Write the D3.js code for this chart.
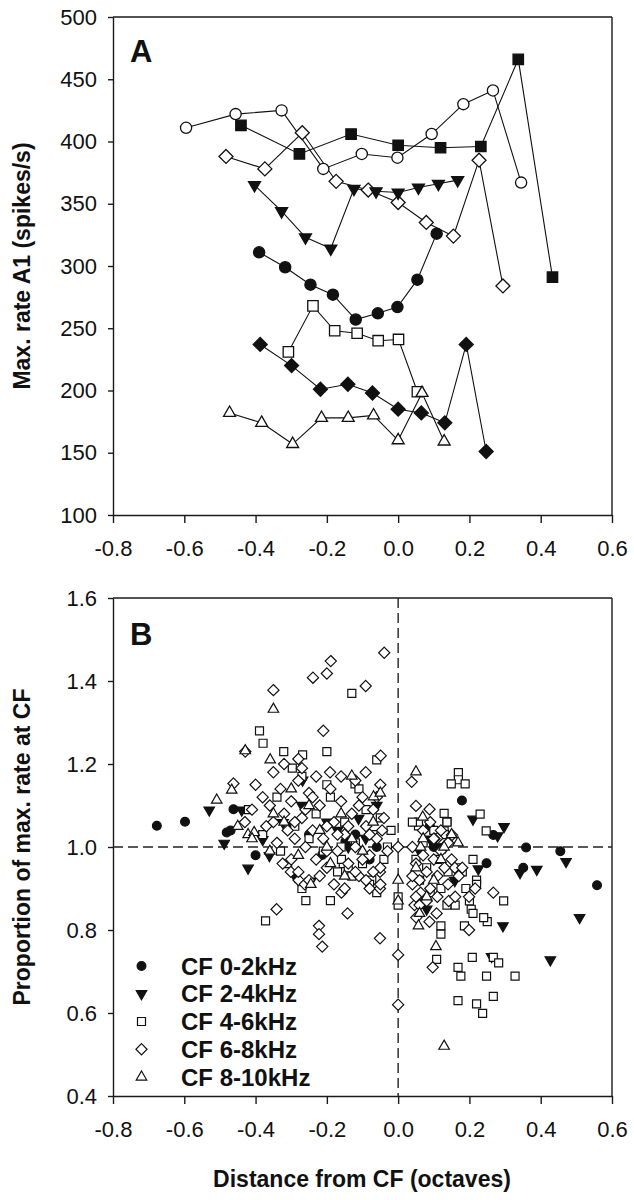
<!DOCTYPE html>
<html><head><meta charset="utf-8">
<script src="https://cdn.jsdelivr.net/npm/d3@7"></script>
<style>
html,body{margin:0;padding:0;background:#fff;}
svg{display:block;font-family:"Liberation Sans",Arial,Helvetica,sans-serif;}
</style></head>
<body>
<svg id="chart" width="634" height="1200"></svg>
<script>
// ---------- Panel A data ----------
const xTicks = [-0.8,-0.6,-0.4,-0.2,0.0,0.2,0.4,0.6];
const yTicksA = [100,150,200,250,300,350,400,450,500];
const yTicksB = [0.4,0.6,0.8,1.0,1.2,1.4,1.6];

const aOpenCircleX = [-0.595,-0.456,-0.327,-0.210,-0.102,-0.002,0.094,0.183,0.266,0.345];
const aOpenCircleY = [411,422,425,378,390,387,406,430,441,367];
const aFilledSquareX = [-0.441,-0.277,-0.132,0.0,0.119,0.232,0.337,0.433];
const aFilledSquareY = [413,390,406,397,395,396,466,291];
const aOpenDiamondX = [-0.483,-0.374,-0.269,-0.174,-0.084,0.0,0.079,0.155,0.227,0.294];
const aOpenDiamondY = [388,378,407,368,361,351,335,324,385,284];
const aFilledTriX = [-0.403,-0.327,-0.260,-0.189,-0.124,-0.062,0.0,0.057,0.113,0.167];
const aFilledTriY = [365,344,323,314,362,360,359,363,366,369];
const aFilledCircleX = [-0.390,-0.317,-0.246,-0.183,-0.119,-0.057,-0.002,0.054,0.108];
const aFilledCircleY = [311,299,285,277,257,262,267,289,326];
const aOpenSquareX = [-0.308,-0.239,-0.178,-0.115,-0.056,0.001,0.054];
const aOpenSquareY = [231,268,248,246,240,241,199];
const aFilledDiamondX = [-0.387,-0.299,-0.218,-0.141,-0.072,0.0,0.065,0.131,0.191,0.247];
const aFilledDiamondY = [237,220,201,205,198,185,182,174,237,151];
const aOpenTriX = [-0.473,-0.383,-0.296,-0.215,-0.140,-0.069,0.0,0.067,0.129];
const aOpenTriY = [182,174,157,178,178,180,160,198,159];

const seriesA = [
  {x:aOpenCircleX, y:aOpenCircleY, shape:"circle", filled:false},
  {x:aFilledSquareX, y:aFilledSquareY, shape:"square", filled:true},
  {x:aOpenDiamondX, y:aOpenDiamondY, shape:"diamond", filled:false},
  {x:aFilledTriX, y:aFilledTriY, shape:"tridown", filled:true},
  {x:aFilledCircleX, y:aFilledCircleY, shape:"circle", filled:true},
  {x:aOpenSquareX, y:aOpenSquareY, shape:"square", filled:false},
  {x:aFilledDiamondX, y:aFilledDiamondY, shape:"diamond", filled:true},
  {x:aOpenTriX, y:aOpenTriY, shape:"triup", filled:false}
];

// ---------- Panel B data ----------
const legendLabels = ["CF 0-2kHz","CF 2-4kHz","CF 4-6kHz","CF 6-8kHz","CF 8-10kHz"];

const b02 = [[-0.677,1.051],[-0.598,1.061],[-0.481,1.035],[-0.47,1.04],[-0.462,1.091],[-0.40,0.98],
 [-0.30,1.05],[-0.25,1.03],[-0.213,0.981],[-0.148,1.013],[-0.12,1.03],[-0.08,0.97],[-0.06,1.00],
 [0.089,1.051],[0.10,1.00],[0.179,1.112],[0.248,0.961],[0.267,1.029],[0.351,0.950],[0.359,0.999],
 [0.455,0.990],[0.558,0.908]];

const b24 = [[-0.53,1.089],[-0.488,1.009],[-0.439,1.089],[-0.421,0.949],[-0.38,1.018],[-0.361,0.979],
 [-0.323,1.059],[-0.268,1.161],[-0.245,0.918],[-0.27,1.10],[-0.20,1.06],[-0.17,1.04],[-0.14,1.00],
 [-0.111,1.069],[-0.091,1.021],[-0.06,1.10],[-0.29,0.93],[0.06,0.99],[0.08,0.85],[0.09,1.019],[0.12,1.00],
 [0.132,1.0],[0.159,0.919],[0.21,1.067],[0.225,0.947],[0.262,0.736],[0.279,1.027],[0.294,0.81],
 [0.297,1.049],[0.342,0.938],[0.389,0.946],[0.427,0.728],[0.471,0.965],[0.509,0.83]];

const b46 = [[-0.389,1.28],[-0.379,1.25],[-0.321,1.23],[-0.268,1.222],[-0.2,1.23],[-0.297,1.19],
 [-0.13,1.37],[-0.121,1.152],[-0.06,1.21],[0.169,1.179],[0.169,1.162],[0.149,1.152],[0.188,1.152],
 [0.129,1.081],[0.23,1.079],[0.247,1.039],[0.057,1.051],[0.137,1.061],[0.129,1.039],[0.21,0.97],
 [-0.372,0.822],[-0.259,0.871],[-0.19,0.871],[0.296,0.87],[0.205,0.85],[0.25,0.82],[0.186,0.81],
 [0.12,0.81],[0.12,0.79],[0.108,0.729],[0.208,0.734],[0.168,0.71],[0.176,0.689],[0.248,0.689],
 [0.328,0.689],[0.267,0.734],[0.282,0.721],[0.168,0.63],[0.22,0.622],[0.237,0.599],[0.267,0.64],
 [0.0,0.86],[0.0,0.88],[-0.154,0.96],[-0.159,0.97],[-0.074,0.92],[0.137,0.86],[0.18,0.94],[0.22,0.92],
 [0.137,1.06],[0.057,1.06],
 [-0.42,1.09],[-0.38,1.03],[-0.34,1.12],[-0.31,0.96],[-0.29,1.05],[-0.27,0.90],[-0.25,1.02],[-0.23,1.08],
 [-0.21,0.99],[-0.19,1.12],[-0.17,0.94],[-0.15,1.06],[-0.14,0.95],[-0.13,0.93],[-0.12,1.01],[-0.11,1.14],
 [-0.10,0.96],[-0.09,1.09],[-0.08,0.91],[-0.07,1.03],[-0.06,0.89],[-0.05,1.07],[-0.03,1.00],[-0.27,1.17],
 [-0.20,1.15],[-0.33,0.99],[-0.16,1.00],[-0.04,0.97],[-0.02,1.04],
 [0.04,1.06],[0.05,0.97],[0.06,0.92],[0.07,1.01],[0.08,0.95],[0.09,0.89],[0.10,1.04],[0.11,0.97],
 [0.12,0.90],[0.13,1.03],[0.14,0.94],[0.16,0.86],[0.17,0.95],[0.19,0.90],[0.20,0.87],[0.21,0.84],[0.22,0.91],[0.24,0.83]];

const b68 = [[-0.039,1.468],[-0.189,1.448],[-0.2,1.418],[-0.239,1.408],[-0.091,1.388],[-0.35,1.378],
 [-0.21,1.28],[-0.429,1.23],[-0.049,1.22],[-0.191,1.18],[-0.091,1.18],[-0.462,1.153],[-0.28,1.212],
 [0.038,1.157],[0.05,1.099],[0.088,1.091],[0.151,1.029],[0.11,1.021],
 [-0.341,0.85],[-0.222,0.81],[-0.222,0.79],[-0.213,0.76],[-0.142,0.84],[-0.051,0.78],[0,0.74],[0,0.62],
 [0.097,0.71],[0.199,0.80],[0.267,0.89],[-0.324,0.96],[-0.301,0.94],[-0.279,0.92],[-0.262,0.91],
 [-0.159,0.89],[-0.08,0.90],[-0.051,0.90],[-0.051,0.94],[0.046,0.86],[0.051,0.83],[0.088,0.82],
 [0.108,0.84],[0.142,0.87],[0.199,0.88],[0.216,0.90],[0.159,0.95],[0.04,0.91],[0.063,0.89],[0.074,0.87],
 [0.102,1.02],[0,1.0],
 [-0.40,1.15],[-0.38,1.12],[-0.36,1.10],[-0.35,1.18],[-0.33,1.14],[-0.32,1.08],[-0.31,1.04],[-0.30,1.11],
 [-0.29,1.02],[-0.28,1.16],[-0.27,1.07],[-0.26,1.00],[-0.25,1.13],[-0.24,1.04],[-0.23,0.97],[-0.22,1.10],
 [-0.21,1.02],[-0.20,0.95],[-0.19,1.14],[-0.18,1.06],[-0.17,0.99],[-0.16,1.11],[-0.15,1.03],[-0.14,0.96],
 [-0.13,1.08],[-0.12,1.00],[-0.11,0.93],[-0.10,1.12],[-0.09,1.05],[-0.08,0.98],[-0.07,1.09],[-0.06,1.02],
 [-0.05,0.95],[-0.04,1.07],[-0.03,0.99],[-0.05,1.15],[-0.06,1.12],[-0.045,1.04],[-0.05,0.91],[-0.35,1.06],
 [-0.34,1.01],[-0.30,0.97],[-0.28,0.94],[-0.25,0.92],[-0.22,0.93],[-0.18,0.91],[-0.15,0.90],[-0.12,0.94],
 [-0.09,0.92],[-0.27,1.19],[-0.23,1.17],[-0.16,1.17],[-0.12,1.16],[-0.20,1.05],[-0.14,1.05],[-0.32,1.20],
 [-0.37,1.05],[-0.41,1.09],[-0.43,1.06],[-0.26,1.09],[-0.24,1.12],[-0.17,1.03],[-0.11,1.10],[-0.08,1.03],
 [-0.10,0.97],[-0.07,0.94],[-0.20,0.99],[-0.29,1.06],
 [0.04,1.0],[0.05,0.96],[0.06,0.92],[0.05,0.88],[0.07,0.98],[0.08,0.94],[0.09,0.90],[0.10,0.97],
 [0.11,0.93],[0.12,0.99],[0.13,0.95],[0.14,0.91],[0.06,0.86],[0.08,0.87],[0.10,1.02],[0.12,1.04],
 [0.15,0.97],[0.17,0.93],[0.04,0.93],[0.07,1.04],[0.09,1.06],[0.11,0.88],[0.14,1.01],[0.16,0.88],[0.18,0.95]];

const b810 = [[-0.35,1.332],[-0.429,1.232],[-0.509,1.113],[-0.359,1.21],[-0.13,1.171],[-0.467,1.137],
 [-0.069,1.121],[0.05,1.181],[0.069,1.072],[0.129,0.52],[0.106,0.76],[0.057,0.81],[0,0.92],[0,0.87],
 [0.129,1.0],[0.168,1.01],[-0.245,0.91],[-0.421,1.03],[-0.404,1.035],[0.063,1.0],
 [-0.45,1.05],[-0.41,1.02],[-0.36,0.99],[-0.32,1.06],[-0.28,0.98],[-0.25,1.10],[-0.22,1.04],[-0.19,0.96],
 [-0.16,1.08],[-0.13,1.02],[-0.10,0.99],[-0.07,1.06],[-0.05,1.13],[-0.30,1.14],[-0.20,1.00],[-0.15,0.93],
 [-0.35,1.08],[0.05,0.95],[0.07,1.02],[0.08,0.88],[0.10,0.92],[0.12,0.97],[0.15,1.03],[0.06,0.84]];

const groupsB = [
  {data:b02, shape:"circle", filled:true},
  {data:b24, shape:"tridown", filled:true},
  {data:b46, shape:"square", filled:false},
  {data:b68, shape:"diamond", filled:false},
  {data:b810, shape:"triup", filled:false}
];

// ---------- drawing ----------
function shapePath(shape, s){
  const p = d3.path();
  if(shape==="circle"){ p.arc(0,0,s,0,2*Math.PI); p.closePath(); }
  else if(shape==="square"){ p.rect(-s,-s,2*s,2*s); }
  else if(shape==="diamond"){ p.moveTo(0,-s); p.lineTo(s,0); p.lineTo(0,s); p.lineTo(-s,0); p.closePath(); }
  else if(shape==="triup"){ const h=s*0.866; p.moveTo(0,-h*0.667); p.lineTo(s/2,h*0.333); p.lineTo(-s/2,h*0.333); p.closePath(); }
  else if(shape==="tridown"){ const h=s*0.866; p.moveTo(0,h*0.667); p.lineTo(s/2,-h*0.333); p.lineTo(-s/2,-h*0.333); p.closePath(); }
  return p.toString();
}
const sizesA = {circle:5.6, square:5.2, diamond:7, triup:12, tridown:12};
const sizesB = {circle:4.4, square:4, diamond:5.6, triup:10.5, tridown:10.5};

const svg = d3.select("#chart");
const L=113, R=612;
const x = d3.scaleLinear().domain([-0.8,0.6]).range([L,R]);
const yA = d3.scaleLinear().domain([100,500]).range([515,17]);
const yB = d3.scaleLinear().domain([0.4,1.6]).range([1096,598]);
const axisColor="#1a1a1a";
const fmt1 = v => d3.format(".1f")(v).replace("\u2212","-");

function frame(y, top, bottom, yticks, fmt){
  const gx = svg.append("g").attr("transform",`translate(0,${bottom})`)
    .call(d3.axisBottom(x).tickValues(xTicks).tickFormat(fmt1).tickSize(8).tickSizeOuter(0).tickPadding(17));
  const gy = svg.append("g").attr("transform",`translate(${L},0)`)
    .call(d3.axisLeft(y).tickValues(yticks).tickFormat(fmt).tickSize(5).tickSizeOuter(0).tickPadding(11));
  [gx,gy].forEach(g=>{
    g.selectAll("path,line").attr("stroke",axisColor).attr("stroke-width",1.4);
    g.selectAll("text").attr("font-size",22).attr("fill","#111").style("font-family","'Liberation Sans',Arial,sans-serif");
  });
  svg.append("line").attr("x1",L).attr("x2",R).attr("y1",top).attr("y2",top).attr("stroke",axisColor).attr("stroke-width",1.4);
  svg.append("line").attr("x1",R).attr("x2",R).attr("y1",top).attr("y2",bottom).attr("stroke",axisColor).attr("stroke-width",1.4);
}
frame(yA, 17, 515, yTicksA, d3.format("d"));
frame(yB, 598, 1096, yTicksB, fmt1);

// Panel A
const gA = svg.append("g");
seriesA.forEach(s=>{
  const pts = s.x.map((v,i)=>[v,s.y[i]]);
  gA.append("path").datum(pts)
    .attr("d", d3.line().x(d=>x(d[0])).y(d=>yA(d[1])))
    .attr("fill","none").attr("stroke","#111").attr("stroke-width",1.1);
});
seriesA.forEach(s=>{
  const pts = s.x.map((v,i)=>[v,s.y[i]]);
  gA.selectAll(null).data(pts).enter().append("path")
    .attr("transform",d=>`translate(${x(d[0])},${yA(d[1])})`)
    .attr("d", shapePath(s.shape, sizesA[s.shape]))
    .attr("fill", s.filled ? "#111" : "#fff")
    .attr("stroke","#111").attr("stroke-width",1.3);
});
svg.append("text").attr("x",130).attr("y",62).text("A")
  .attr("font-size",31).attr("font-weight","bold").attr("fill","#111");

// Panel B dashed lines
svg.append("line").attr("x1",L).attr("x2",R).attr("y1",yB(1.0)).attr("y2",yB(1.0))
  .attr("stroke","#222").attr("stroke-width",1.4).attr("stroke-dasharray","10,5");
svg.append("line").attr("x1",x(0)).attr("x2",x(0)).attr("y1",598).attr("y2",1096)
  .attr("stroke","#222").attr("stroke-width",1.4).attr("stroke-dasharray","10,5");

const gB = svg.append("g");
groupsB.forEach(g=>{
  gB.selectAll(null).data(g.data).enter().append("path")
    .attr("transform",d=>`translate(${x(d[0])},${yB(d[1])})`)
    .attr("d", shapePath(g.shape, sizesB[g.shape]))
    .attr("fill", g.filled ? "#111" : "#fff")
    .attr("stroke","#111").attr("stroke-width",1.2);
});
svg.append("text").attr("x",130).attr("y",645).text("B")
  .attr("font-size",31).attr("font-weight","bold").attr("fill","#111");

// Legend
const legRowY = d3.scaleLinear().domain([0,4]).range([966,1077]);
groupsB.forEach((g,i)=>{
  svg.append("path").attr("transform",`translate(141.5,${legRowY(i)})`)
    .attr("d", shapePath(g.shape, sizesB[g.shape]))
    .attr("fill", g.filled ? "#111" : "#fff").attr("stroke","#111").attr("stroke-width",1.2);
  svg.append("text").attr("x",181).attr("y",legRowY(i)+8.5).text(legendLabels[i])
    .attr("font-size",24).attr("font-weight","bold").attr("fill","#111");
});

// Axis titles
svg.append("text").attr("transform",`translate(30,266) rotate(-90)`).attr("text-anchor","middle")
  .text("Max. rate A1 (spikes/s)").attr("font-size",23).attr("font-weight","bold").attr("fill","#111");
svg.append("text").attr("transform",`translate(30,847) rotate(-90)`).attr("text-anchor","middle")
  .text("Proportion of max. rate at CF").attr("font-size",23).attr("font-weight","bold").attr("fill","#111");
svg.append("text").attr("x",362).attr("y",1187).attr("text-anchor","middle")
  .text("Distance from CF (octaves)").attr("font-size",23).attr("font-weight","bold").attr("fill","#111");
</script>
</body></html>
